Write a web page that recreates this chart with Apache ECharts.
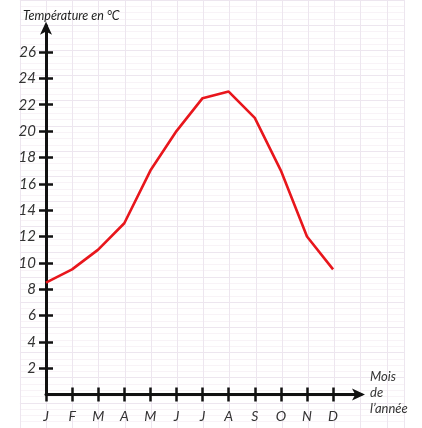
<!DOCTYPE html>
<html><head><meta charset="utf-8">
<style>html,body{margin:0;padding:0;background:#fff}#c{width:422px;height:428px}</style>
<script src="https://cdn.jsdelivr.net/npm/echarts@6/dist/echarts.min.js"></script>
</head><body><div id="c"></div>
<script>
var months = ['J','F','M','A','M','J','J','A','S','O','N','D'];
var temps = [8.5, 9.5, 11, 13, 17, 20, 22.5, 23, 21, 17, 12, 9.5];
var yTicks = [2,4,6,8,10,12,14,16,18,20,22,24,26];
var yTitle = 'Température en °C';
var xTitle = 'Mois\nde\nl\u2019année';

var monthIdx = months.map(function(m,i){return i;});
var font = 'Lato, "Open Sans", sans-serif';
var txt = '#333';
var major = '#ede6ef', minor = '#f8f3f7';

var chart = echarts.init(document.getElementById('c'), null, {renderer:'canvas'});
chart.setOption({
  animation:false,
  backgroundColor:'#fff',
  title:{text:yTitle, left:18, top:4, textStyle:{fontFamily:font, fontStyle:'italic', fontWeight:'normal', fontSize:12.5, color:'#222'}},
  graphic:[{type:'text', left:370, top:369, z:10, style:{text:xTitle, fontFamily:font, fontStyle:'italic', fontSize:13, lineHeight:16, fill:txt}}],
  grid:[
    {left:19.9, right:18, top:-0.6, bottom:-19.2},
    {left:46, right:61, top:25.7, bottom:33.5}
  ],
  xAxis:[
    {gridIndex:0, type:'value', min:-1, max:13.65, interval:1, axisLine:{show:false}, axisTick:{show:false}, axisLabel:{show:false},
     splitLine:{show:true, lineStyle:{color:major, width:1}}},
    {gridIndex:1, type:'value', min:0, max:12.07, position:'bottom',
     axisLine:{show:true, onZero:false, symbol:['none','arrow'], symbolSize:[9,13], symbolOffset:[0,4], lineStyle:{color:'#111', width:3}},
     axisTick:{show:true, customValues:monthIdx, length:7, lineStyle:{color:'#111', width:2.5}},
     axisLabel:{show:true, customValues:monthIdx, formatter:function(v){return months[Math.round(v)];}, margin:15, fontFamily:font, fontStyle:'italic', fontSize:14, color:txt},
     splitLine:{show:false}},
    {gridIndex:1, type:'value', min:0, max:12.07, position:'bottom',
     axisLine:{show:false, onZero:false},
     axisTick:{show:true, inside:true, customValues:monthIdx, length:7, lineStyle:{color:'#111', width:2.5}},
     axisLabel:{show:false}, splitLine:{show:false}}
  ],
  yAxis:[
    {gridIndex:0, type:'value', min:-4, max:30, interval:2, axisLine:{show:false}, axisTick:{show:false}, axisLabel:{show:false},
     splitLine:{show:true, lineStyle:{color:major, width:1}},
     minorTick:{show:false, splitNumber:4},
     minorSplitLine:{show:true, lineStyle:{color:minor, width:1}}},
    {gridIndex:1, type:'value', min:0, max:28, position:'left',
     axisLine:{show:true, onZero:false, symbol:['none','arrow'], symbolSize:[9,13], symbolOffset:[0,4], lineStyle:{color:'#111', width:3}},
     axisTick:{show:true, customValues:yTicks, length:7, lineStyle:{color:'#111', width:2.5}},
     axisLabel:{show:true, customValues:yTicks, margin:10, fontFamily:font, fontStyle:'italic', fontSize:15, color:txt},
     splitLine:{show:false}},
    {gridIndex:1, type:'value', min:0, max:28, position:'left',
     axisLine:{show:false, onZero:false},
     axisTick:{show:true, inside:true, customValues:yTicks, length:7, lineStyle:{color:'#111', width:2.5}},
     axisLabel:{show:false}, splitLine:{show:false}}
  ],
  series:[{
    type:'line', xAxisIndex:1, yAxisIndex:1, symbol:'none', z:5,
    lineStyle:{color:'#e8161c', width:2.6},
    data: temps.map(function(v,i){return [i, v];})
  }]
});
</script></body></html>
